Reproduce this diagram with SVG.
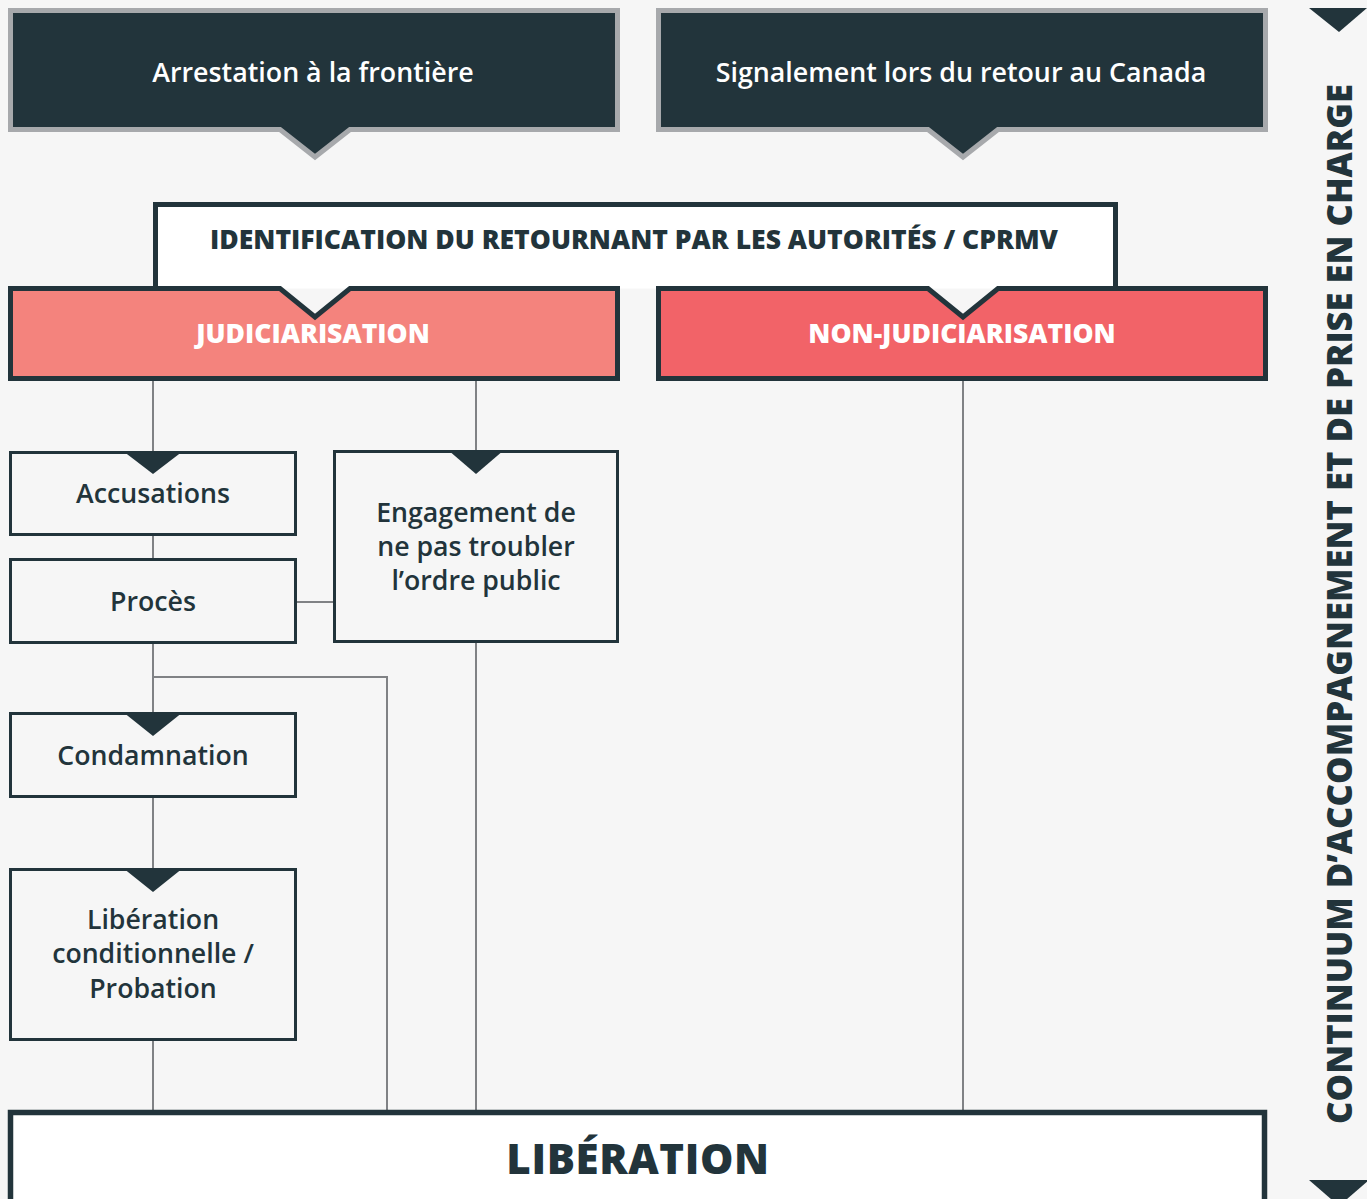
<svg xmlns="http://www.w3.org/2000/svg" width="1367" height="1199" viewBox="0 0 1367 1199">
<style>
  .top{fill:#22343b;stroke:#a7a9ac;stroke-width:5;stroke-linejoin:miter}
  .bar{stroke:#22343b;stroke-width:5}
  .box{fill:#f6f6f6;stroke:#22343b;stroke-width:3}
  .tri{fill:#22343b}
  .ln{stroke:#808285;stroke-width:2;fill:none}
  .t{font-family:"Open Sans","Liberation Sans",sans-serif;text-anchor:middle}
  .w{fill:#ffffff;font-size:26.8px;font-weight:600}
  .n{fill:#22343b;font-size:26.7px;font-weight:600}
  .b{font-weight:800}
</style>
<rect width="1367" height="1199" fill="#f6f6f6"/>

<g id="connectors">
  <line class="ln" x1="153" y1="379" x2="153" y2="452"/>
  <line class="ln" x1="476" y1="379" x2="476" y2="452"/>
  <line class="ln" x1="963" y1="379" x2="963" y2="1110"/>
  <line class="ln" x1="153" y1="535" x2="153" y2="559"/>
  <line class="ln" x1="297" y1="602" x2="334" y2="602"/>
  <line class="ln" x1="153" y1="643" x2="153" y2="713"/>
  <polyline class="ln" points="153,677 387,677 387,1110"/>
  <line class="ln" x1="476" y1="643" x2="476" y2="1110"/>
  <line class="ln" x1="153" y1="797" x2="153" y2="868"/>
  <line class="ln" x1="153" y1="1040" x2="153" y2="1110"/>
</g>

<g id="arrestation">
  <path class="top" d="M10.5,10.5 H617.5 V129.5 H350 L315,157 L280,129.5 H10.5 Z"/>
  <text class="t w" x="313" y="82">Arrestation à la frontière</text>
</g>

<g id="signalement">
  <path class="top" d="M658.5,10.5 H1265.5 V129.5 H998 L963,157 L928,129.5 H658.5 Z"/>
  <text class="t w" x="961" y="82">Signalement lors du retour au Canada</text>
</g>

<g id="identification">
  <rect x="155.5" y="204.5" width="960" height="84" fill="#ffffff"/>
  <path d="M155.5,290 V204.5 H1115.5 V290" fill="none" stroke="#22343b" stroke-width="5"/>
  <text class="t b" x="634" y="249" fill="#22343b" font-size="26.5">IDENTIFICATION DU RETOURNANT PAR LES AUTORITÉS / CPRMV</text>
</g>

<g id="judiciarisation">
  <path class="bar" fill="#f4837d" d="M10.5,288.5 H280 L315,317 L350,288.5 H617.5 V378.5 H10.5 Z"/>
  <text class="t b" fill="#ffffff" x="313" y="343" font-size="26.5">JUDICIARISATION</text>
</g>

<g id="non-judiciarisation">
  <path class="bar" fill="#f26368" d="M658.5,288.5 H928 L963,317 L998,288.5 H1265.5 V378.5 H658.5 Z"/>
  <text class="t b" fill="#ffffff" x="962" y="343" font-size="26.5">NON-JUDICIARISATION</text>
</g>

<g id="accusations">
  <rect class="box" x="10.5" y="452.5" width="285" height="82"/>
  <path class="tri" d="M123,451 H183 L153,474 Z"/>
  <text class="t n" x="153" y="503">Accusations</text>
</g>

<g id="proces">
  <rect class="box" x="10.5" y="559.5" width="285" height="83"/>
  <text class="t n" x="153" y="611">Procès</text>
</g>

<g id="engagement">
  <rect class="box" x="334.5" y="451.5" width="283" height="190"/>
  <path class="tri" d="M448,450 H504 L476,474 Z"/>
  <text class="t n" x="476" y="522">Engagement de</text>
  <text class="t n" x="476" y="556">ne pas troubler</text>
  <text class="t n" x="476" y="590">l’ordre public</text>
</g>

<g id="condamnation">
  <rect class="box" x="10.5" y="713.5" width="285" height="83"/>
  <path class="tri" d="M123,712 H183 L153,736 Z"/>
  <text class="t n" x="153" y="765">Condamnation</text>
</g>

<g id="liberation-conditionnelle">
  <rect class="box" x="10.5" y="869.5" width="285" height="170"/>
  <path class="tri" d="M123,868 H183 L153,892 Z"/>
  <text class="t n" x="153" y="929">Libération</text>
  <text class="t n" x="153" y="963">conditionnelle /</text>
  <text class="t n" x="153" y="998">Probation</text>
</g>

<g id="liberation">
  <rect x="10.5" y="1112.5" width="1254" height="120" fill="#ffffff" stroke="#22343b" stroke-width="5.5"/>
  <text class="t b" x="638" y="1174" fill="#22343b" font-size="42" letter-spacing="0.6">LIBÉRATION</text>
</g>

<g id="continuum">
  <path class="tri" d="M1309,8 H1367 L1339,32 Z"/>
  <text class="t b" transform="translate(1352,604) rotate(-90)" x="0" y="0" fill="#22343b" font-size="34.7">CONTINUUM D’ACCOMPAGNEMENT ET DE PRISE EN CHARGE</text>
  <path class="tri" d="M1309,1180 H1369 L1339,1206 Z"/>
</g>
</svg>
